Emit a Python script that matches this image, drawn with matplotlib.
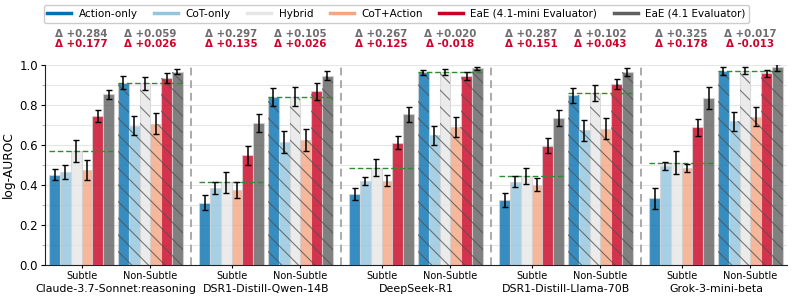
import matplotlib
matplotlib.use("Agg")
import matplotlib.pyplot as plt
from matplotlib.lines import Line2D
from matplotlib.ticker import MultipleLocator
import matplotlib.transforms as mtransforms
import numpy as np

models = ["Claude-3.7-Sonnet:reasoning", "DSR1-Distill-Qwen-14B", "DeepSeek-R1",
          "DSR1-Distill-Llama-70B", "Grok-3-mini-beta"]
subsets = ["Subtle", "Non-Subtle"]
methods = ["Action-only", "CoT-only", "Hybrid", "CoT+Action",
           "EaE (4.1-mini Evaluator)", "EaE (4.1 Evaluator)"]

# values ordered model by model: [subtle, non-subtle]
action_only = [0.452, 0.911, 0.312, 0.841, 0.355, 0.963, 0.325, 0.849, 0.333, 0.970]
cot_only    = [0.467, 0.697, 0.384, 0.615, 0.419, 0.648, 0.417, 0.673, 0.494, 0.719]
hybrid      = [0.569, 0.908, 0.414, 0.842, 0.487, 0.964, 0.446, 0.862, 0.511, 0.971]
cot_action  = [0.477, 0.707, 0.375, 0.626, 0.422, 0.690, 0.402, 0.682, 0.486, 0.742]
eae_mini    = [0.746, 0.934, 0.549, 0.868, 0.612, 0.946, 0.597, 0.905, 0.689, 0.958]
eae_41      = [0.853, 0.967, 0.711, 0.947, 0.754, 0.984, 0.733, 0.964, 0.836, 0.988]

action_only_err = [0.029, 0.033, 0.039, 0.044, 0.032, 0.014, 0.035, 0.037, 0.054, 0.018]
cot_only_err    = [0.035, 0.048, 0.031, 0.056, 0.021, 0.049, 0.027, 0.054, 0.021, 0.048]
hybrid_err      = [0.054, 0.033, 0.052, 0.046, 0.042, 0.014, 0.040, 0.040, 0.058, 0.018]
cot_action_err  = [0.050, 0.054, 0.039, 0.055, 0.027, 0.048, 0.034, 0.054, 0.021, 0.048]
eae_mini_err    = [0.029, 0.025, 0.048, 0.042, 0.034, 0.019, 0.038, 0.027, 0.042, 0.017]
eae_41_err      = [0.024, 0.014, 0.044, 0.021, 0.038, 0.008, 0.040, 0.019, 0.054, 0.016]

delta_41_labels   = ["Δ +0.284", "Δ +0.059", "Δ +0.297", "Δ +0.105", "Δ +0.267",
                     "Δ +0.020", "Δ +0.287", "Δ +0.102", "Δ +0.325", "Δ +0.017"]
delta_mini_labels = ["Δ +0.177", "Δ +0.026", "Δ +0.135", "Δ +0.026", "Δ +0.125",
                     "Δ -0.018", "Δ +0.151", "Δ +0.043", "Δ +0.178", "Δ -0.013"]

series = [action_only, cot_only, hybrid, cot_action, eae_mini, eae_41]
errors = [action_only_err, cot_only_err, hybrid_err, cot_action_err, eae_mini_err, eae_41_err]
base_colors = ["#0571b0", "#92c5de", "#e6e6e6", "#f4a582", "#ca0020", "#606060"]

fig = plt.figure(figsize=(7.93, 3.01), dpi=100)
ax = fig.add_axes([45 / 793, 1 - 265 / 301, (787 - 45) / 793, 200 / 301])

bw = 0.072
off = 0.2295
n_models = len(models)
centers = []
for mi in range(n_models):
    for si in range(2):
        centers.append(mi + (-off if si == 0 else off))
centers = np.array(centers)

plt.rcParams["hatch.linewidth"] = 0.8
for k, (vals, errs, col) in enumerate(zip(series, errors, base_colors)):
    xs = centers + (k - 2.5) * bw
    for j, (x, v, e) in enumerate(zip(xs, vals, errs)):
        ax.bar(x, v, width=bw, color=col, alpha=0.8, edgecolor="#d4d4d4",
               linewidth=0.8, zorder=2)
        if j % 2 == 1:
            ax.bar(x, v, width=bw, facecolor="none", edgecolor="#505050",
                   linewidth=0, hatch="\\\\", alpha=0.75, zorder=2.5)
        ax.errorbar(x, v, yerr=e, fmt="none", ecolor="black", elinewidth=1.1,
                    capsize=2.5, capthick=1.0, zorder=4)

# hybrid reference lines
for j, c in enumerate(centers):
    ax.hlines(hybrid[j], c - 3 * bw, c + 3 * bw, colors="#2e8b2e", linestyles=(0, (4, 2)),
              linewidth=1.0, zorder=3)

# separators
for mi in range(n_models - 1):
    ax.axvline(mi + 0.5, color="#aaaaaa", linestyle=(0, (4, 2.5)), linewidth=1.4, zorder=1)

ax.set_xlim(-0.473, n_models - 1 + 0.473)
ax.set_ylim(0, 1.0)
ax.yaxis.set_major_locator(MultipleLocator(0.2))
ax.yaxis.set_minor_locator(MultipleLocator(0.1))
ax.grid(axis="y", which="both", color="#e6e6e6", linewidth=0.8, zorder=0)
ax.set_axisbelow(True)
ax.set_ylabel("log-AUROC", fontsize=8.8, labelpad=3)
ax.tick_params(axis="y", labelsize=8.5, length=3, pad=2)
ax.tick_params(axis="y", which="minor", length=2, color="#999999")
ax.set_xticks(centers)
ax.set_xticklabels(subsets * n_models, fontsize=7.0)
ax.tick_params(axis="x", length=2.5, pad=2)
for s in ["top", "right"]:
    ax.spines[s].set_visible(False)
ax.spines["left"].set_color("#222222")
ax.spines["bottom"].set_color("#222222")

trans = mtransforms.blended_transform_factory(ax.transData, ax.transAxes)
for mi, name in enumerate(models):
    ax.text(mi, -0.118, name, transform=trans, ha="center", va="center", fontsize=7.9)

for j, c in enumerate(centers):
    ax.text(c, 1.155, delta_41_labels[j], transform=trans, ha="center", va="center",
            fontsize=7.4, fontweight="bold", color="#6e6e6e")
    ax.text(c, 1.103, delta_mini_labels[j], transform=trans, ha="center", va="center",
            fontsize=7.4, fontweight="bold", color="#d0002a")

handles = [Line2D([0], [0], color=c, lw=2.5) for c in base_colors]
fig.legend(handles, methods, loc="center", bbox_to_anchor=(0.5, 1 - 14 / 301), ncol=6,
           fontsize=7.5, frameon=True, handlelength=2.3, columnspacing=1.6,
           handletextpad=0.7, borderpad=0.35, framealpha=1, edgecolor="#cccccc")

fig.savefig("out.png", dpi=100)
